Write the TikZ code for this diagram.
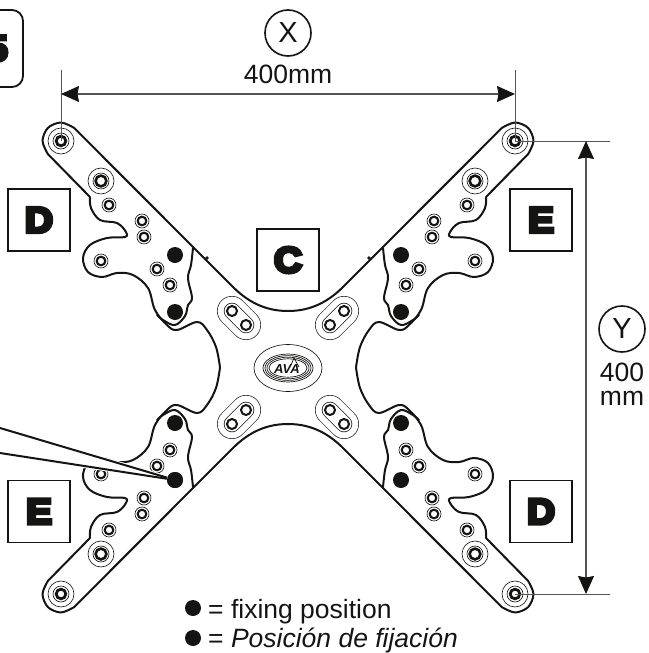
\documentclass[tikz,border=0pt]{standalone}
\usepackage{fontspec}
\setmainfont{Liberation Sans}
\newfontfamily\heavyfont[FakeBold=10,FakeStretch=1.08]{Liberation Sans Bold}
\usetikzlibrary{arrows.meta}
\definecolor{ink}{HTML}{141412}
\definecolor{dimline}{HTML}{555555}
\newcommand{\bigtxt}{\fontsize{26.5}{30}\selectfont}
\tikzset{
  x=1pt,y=-1pt,
  outline/.style={draw=ink,line width=2pt,line join=round,line cap=round},
  thinring/.style={draw=ink,line width=.65pt},
  dimstroke/.style={draw=dimline,line width=1pt},
  dimarrow/.style={draw=dimline,line width=1.2pt,{Stealth[length=18pt,width=16pt,inset=1.5pt,color=ink]}-{Stealth[length=18pt,width=16pt,inset=1.5pt,color=ink]}},
  labelbox/.style={draw=ink,line width=1.8pt,minimum size=62pt,inner sep=0pt,font=\heavyfont\fontsize{36}{40}\selectfont,text=ink},
  axiscircle/.style={circle,draw=ink,line width=1.6pt,minimum size=46pt,inner sep=0pt,font=\fontsize{29}{30}\selectfont,text=ink},
  plaintext/.style={inner sep=0pt,font=\bigtxt,text=ink},
  blackdot/.style={circle,fill=ink,minimum size=16pt,inner sep=0pt},
}
\newcommand{\smallhole}[2]{%
  \draw[thinring] (#1,#2) circle (7);
  \draw[ink,line width=2.1pt] (#1,#2) circle (4.3);
}
\newcommand{\bighole}[4]{%
  \draw[thinring] (#1,#2) circle (13);
  \draw[thinring] (#1,#2) circle (8);
  \draw[ink,line width=#4pt] (#1,#2) circle (#3);
}
\newcommand{\slothole}[2]{%
  \draw[ink,line width=2pt] (#1,#2) circle (5);
}
\newcommand{\quadrant}{%
 \begin{scope}[shift={(-288,-367.5)}]
  \draw[outline] (288,311) .. controls (268,311) and (250,304) .. (233,287) -- (74.1,127.9)
     plot[smooth,tension=.55] coordinates {(74.1,127.9) (61,122.5) (47.9,127.9) (42.5,141) (47.9,154.1)}
     -- (90,197)
     plot[smooth,tension=.6] coordinates {(90,197) (91,208) (100,220) (117,223) (126,232) (125,237)
        (107,238) (90,245) (83,258) (88,272) (102,277) (117,273) (133,275) (148,288) (155,310)
        (167,325) (177,330) (197,322) (207,330) (216,347) (220,367.5)};
  \draw[outline] plot[smooth,tension=.6] coordinates {(193,248) (191,265) (188,278) (192,298) (188,305) (185,316) (175,325) (163,320) (157,315)};
  \bighole{61}{141}{4.8}{2.8}
  \bighole{101}{181}{5.4}{2.6}
  \smallhole{109}{205}
  \smallhole{142}{221}
  \smallhole{144}{237}
  \smallhole{101}{261}
  \smallhole{157}{269}
  \smallhole{170}{285}
  \fill[ink] (175,255) circle (8);
  \fill[ink] (175,312) circle (8);
  \draw[line width=30pt,ink,line cap=round] (232,311) -- (246,325);
  \draw[line width=28.7pt,white,line cap=round] (232,311) -- (246,325);
  \draw[line width=16.5pt,ink,line cap=round] (232,311) -- (246,325);
  \draw[line width=15pt,white,line cap=round] (232,311) -- (246,325);
  \slothole{232}{311}
  \slothole{246}{325}
 \end{scope}
}
\begin{document}
\begin{tikzpicture}
\useasboundingbox (0,0) rectangle (648,653);
\clip (0,0) rectangle (648,653);

% four mirrored quadrants
\begin{scope}[shift={(288,367.5)}]\quadrant\end{scope}
\begin{scope}[shift={(288,367.5)},xscale=-1]\quadrant\end{scope}
\begin{scope}[shift={(288,367.5)},yscale=-1]\quadrant\end{scope}
\begin{scope}[shift={(288,367.5)},xscale=-1,yscale=-1]\quadrant\end{scope}
\fill[ink] (207,258) circle (1.8);
\fill[ink] (369,258) circle (1.8);

% centre logo
\draw[thinring] (288,368) ellipse (34 and 23.5);
\draw[ink,line width=.7pt] (288,368) ellipse (25 and 14);
\draw[ink,line width=.7pt] (288,368) ellipse (23 and 12.4);
\draw[ink,line width=.7pt] (288,368) ellipse (21 and 10.8);
\draw[ink,line width=.7pt] (288,368) ellipse (19 and 9.2);
\fill[white] (288,368) ellipse (17.5 and 8);
\node[inner sep=0pt,font=\bfseries\itshape\fontsize{13}{13}\selectfont,text=ink] (logotext) at (287,369) {AVA};
\draw[ink,line width=.7pt] (291,365) -- (294,358) -- (299,367);

% labels
\node[labelbox] (boxDa) at (39,220) {D};
\node[labelbox] (boxEa) at (541,220) {E};
\node[labelbox] (boxC) at (288,260) {C};
\node[labelbox] (boxEb) at (39,511.5) {E};
\node[labelbox] (boxDb) at (541,511.5) {D};
\node[draw=ink,line width=1.8pt,rounded corners=11pt,minimum width=52pt,minimum height=77pt,inner sep=0pt,font=\heavyfont\fontsize{36}{38}\selectfont,text=ink] (boxFive) at (-3,48.5) {5};

% dimensions
\coordinate (xa) at (61,94);
\coordinate (xb) at (515,94);
\coordinate (xaTop) at (61,70);
\coordinate (xbTop) at (515,70);
\coordinate (xaLow) at (61,141);
\coordinate (xbLow) at (515,141);
\draw[dimstroke] (xaTop) -- (xaLow);
\draw[dimstroke] (xbTop) -- (xbLow);
\draw[dimarrow] (xa) -- (xb);
\coordinate (ya) at (586,141);
\coordinate (yb) at (586,594);
\coordinate (yaIn) at (515,141);
\coordinate (ybIn) at (515,594);
\coordinate (yaOut) at (610,141);
\coordinate (ybOut) at (610,594);
\draw[dimstroke] (yaIn) -- (yaOut);
\draw[dimstroke] (ybIn) -- (ybOut);
\draw[dimarrow] (ya) -- (yb);

\node[axiscircle] (circX) at (288,33) {X};
\node[plaintext,anchor=base] (lenX) at (288,83) {400mm};
\node[axiscircle] (circY) at (622,329) {Y};
\node[plaintext,anchor=base] (lenYa) at (622,381) {400};
\node[plaintext,anchor=base] (lenYb) at (622,405) {mm};

% leader: white wedge first, then the dot and its two lines
\coordinate (leadA) at (0,428);
\coordinate (leadB) at (0,453);
\coordinate (leadTip) at (175,480);
\fill[white] (leadA) -- (leadTip) -- (leadB) -- cycle;
\draw[white,line width=4pt] (leadA) -- (leadTip) -- (leadB);
\node[blackdot] (fixdot) at (leadTip) {};
\draw[ink,line width=2pt] (leadA) -- (fixdot);
\draw[ink,line width=2pt] (leadB) -- (fixdot);

% legend
\node[blackdot] (legA) at (193,608) {};
\node[blackdot] (legB) at (193,638) {};
\node[plaintext,anchor=base west] (legTextA) at (208,618) {= fixing position};
\node[plaintext,anchor=base west] (legTextB) at (208,647) {= \textit{Posición de fijación}};
\end{tikzpicture}
\end{document}
